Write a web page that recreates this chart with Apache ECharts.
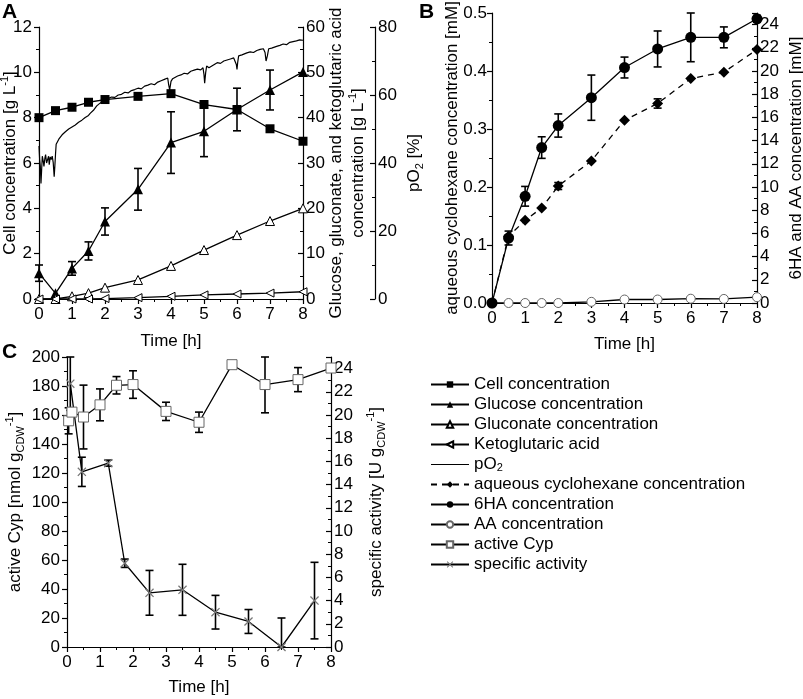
<!DOCTYPE html>
<html>
<head>
<meta charset="utf-8">
<script src="https://cdn.jsdelivr.net/npm/echarts/dist/echarts.min.js"></script>
<style>
    html, body { margin: 0; padding: 0; background: #fff; }
    #chart { width: 803px; height: 699px; }
</style>
</head>
<body>
<div id="chart"></div>
<script>
// ---- panel A: fermentation ----
var timeA = [0, 0.5, 1, 1.5, 2, 3, 4, 5, 6, 7, 8];
var cellConc = [8.0, 8.31, 8.46, 8.68, 8.8, 8.94, 9.06, 8.58, 8.36, 7.51, 6.96];
var glucoseConc = [5.7, 1.25, 6.75, 10.6, 17.1, 24.2, 34.5, 37.0, 41.8, 46.1, 50.1];
var glucoseErr = [1.8, 0, 1.5, 2.0, 3.0, 4.6, 6.8, 5.6, 4.7, 4.4, 0];
var gluconateConc = [0, 0, 0.6, 1.3, 2.5, 4.2, 7.3, 10.8, 14.1, 17.2, 20.0];
var ketoglutaricConc = [0, 0, 0, 0, 0.1, 0.3, 0.6, 0.9, 1.1, 1.3, 1.6];
// pO2 trace [h, %]
var pO2Trace = [
    [0, 45], [0.02, 41], [0.04, 39], [0.06, 34], [0.08, 38], [0.1, 42], [0.13, 40.5], [0.15, 39],
    [0.18, 41.5], [0.2, 42.5], [0.23, 40], [0.26, 41], [0.29, 42], [0.31, 39.5], [0.34, 41.8],
    [0.37, 41], [0.4, 42], [0.43, 40.2], [0.46, 36], [0.48, 39], [0.5, 42.5], [0.52, 45.5],
    [0.56, 46], [0.6, 47], [0.65, 47.5], [0.7, 48.3], [0.75, 48], [0.8, 49.2], [0.85, 49.5],
    [0.9, 50], [0.95, 50.3], [1.0, 50.6], [1.05, 50.4], [1.1, 51.2], [1.15, 51.5], [1.2, 52],
    [1.25, 51.8], [1.3, 52.6], [1.35, 53], [1.4, 53.4], [1.45, 53.2], [1.5, 54], [1.55, 54.6],
    [1.6, 54.9], [1.65, 55.5], [1.7, 56], [1.75, 56.8], [1.8, 57.2], [1.85, 57.6], [1.9, 58],
    [1.95, 58.2], [2.0, 58.8], [2.1, 59], [2.2, 59.4], [2.3, 59.3], [2.4, 60], [2.5, 60.2],
    [2.6, 60.8], [2.7, 60.6], [2.8, 61.3], [2.9, 61.6], [3.0, 62], [3.1, 61.8], [3.2, 62.6],
    [3.3, 62.9], [3.4, 63.3], [3.5, 63], [3.6, 63.8], [3.7, 64.2], [3.8, 64.6], [3.85, 64.2],
    [3.9, 65], [3.93, 63], [3.96, 61.5], [4.0, 64], [4.05, 64.8], [4.1, 65.2], [4.2, 65.6],
    [4.3, 65.9], [4.4, 66.4], [4.5, 66.2], [4.6, 67], [4.7, 67.3], [4.8, 67.6], [4.9, 67.4],
    [4.97, 68], [5.0, 66], [5.02, 63.5], [5.05, 66.5], [5.08, 68.5], [5.15, 68], [5.2, 68.3],
    [5.3, 68.9], [5.4, 69.5], [5.5, 69.3], [5.6, 70], [5.7, 70.3], [5.8, 70.6], [5.9, 70.9],
    [5.96, 71.3], [5.98, 69], [6.0, 67.5], [6.02, 69.5], [6.05, 71.5], [6.15, 71.8], [6.2, 72],
    [6.3, 72.4], [6.4, 72.7], [6.5, 72.5], [6.6, 73.1], [6.7, 73.4], [6.8, 73.6], [6.85, 72.5],
    [6.88, 70], [6.92, 71.5], [6.96, 73.6], [7.05, 73.8], [7.1, 74], [7.2, 74.3], [7.3, 74.6],
    [7.4, 75], [7.5, 74.8], [7.6, 75.5], [7.7, 75.7], [7.8, 75.9], [7.9, 76.2], [8.0, 76.1]
];

// ---- panel B: products ----
var timeB = [0, 0.5, 1, 1.5, 2, 3, 4, 5, 6, 7, 8];
var cyclohexaneConc = [0, 0.115, 0.1425, 0.164, 0.2017, 0.245, 0.315, 0.344, 0.387, 0.398, 0.437];
var cyclohexaneErr = [0, 0, 0, 0, 0.006, 0, 0, 0.008, 0, 0, 0];
var ha6Conc = [0, 5.6, 9.2, 13.4, 15.3, 17.7, 20.3, 21.9, 22.9, 22.9, 24.5];
var ha6Err = [0, 0.6, 0.85, 0.93, 1.0, 1.95, 0.9, 1.55, 2.1, 0.9, 0.3];
var aaConc = [0, 0, 0, 0, 0, 0.1, 0.3, 0.3, 0.37, 0.35, 0.5];

// ---- panel C: enzyme ----
var timeCyp = [0.05, 0.15, 0.5, 1, 1.5, 2, 3, 4, 5, 6, 7, 8];
var activeCyp = [156, 162, 158.6, 167, 180.5, 181, 162.5, 155, 194.7, 181, 184.4, 192.4];
var activeCypErr = [9, 0, 22, 11, 6, 9.5, 6.3, 7, 0, 19.5, 8.3, 0];
var timeAct = [0.1, 0.45, 1.25, 1.75, 2.5, 3.5, 4.5, 5.5, 6.5, 7.5];
var specActivity = [22.7, 15.1, 15.85, 7.22, 4.67, 4.93, 3.0, 2.2, 0, 4.0];
var specActivityErr = [2.3, 1.26, 0.26, 0.36, 1.93, 2.2, 1.45, 1.03, 2.5, 3.3];

var FONT = 'Liberation Sans, Arial, sans-serif';
var chart = echarts.init(document.getElementById('chart'));

function pairs(xs, ys) {
    var out = [];
    for (var i = 0; i < xs.length; i++) out.push([xs[i], ys[i]]);
    return out;
}
function errData(xs, ys, errs, top) {
    var out = [];
    for (var i = 0; i < xs.length; i++) {
        if (!errs[i]) continue;
        out.push([xs[i], Math.max(ys[i] - errs[i], 0), Math.min(ys[i] + errs[i], top)]);
    }
    return out;
}
function renderErr(params, api) {
    var hi = api.coord([api.value(0), api.value(2)]);
    var lo = api.coord([api.value(0), api.value(1)]);
    var st = { stroke: '#000', lineWidth: 1.6 };
    return {
        type: 'group',
        children: [
            { type: 'line', shape: { x1: hi[0], y1: hi[1], x2: lo[0], y2: lo[1] }, style: st },
            { type: 'line', shape: { x1: hi[0] - 4, y1: hi[1], x2: hi[0] + 4, y2: hi[1] }, style: st },
            { type: 'line', shape: { x1: lo[0] - 4, y1: lo[1], x2: lo[0] + 4, y2: lo[1] }, style: st }
        ]
    };
}
function errSeries(x, y, data) {
    return { type: 'custom', xAxisIndex: x, yAxisIndex: y, data: data, renderItem: renderErr, z: 1, silent: true };
}

var richStyle = {
    sup: { fontSize: 11, fontFamily: FONT, color: '#000', verticalAlign: 'top', lineHeight: 11 },
    sub: { fontSize: 11, fontFamily: FONT, color: '#000', verticalAlign: 'bottom', lineHeight: 11 }
};

function timeAxis(grid, gap) {
    return {
        type: 'value', gridIndex: grid, min: 0, max: 8, interval: 1,
        name: 'Time [h]', nameLocation: 'middle', nameGap: gap, nameMoveOverlap: false,
        nameTextStyle: { fontSize: 17, fontFamily: FONT, color: '#000' },
        axisLine: { show: true, onZero: false, lineStyle: { color: '#000', width: 1.2 } },
        axisTick: { show: true, length: 5, lineStyle: { color: '#000', width: 1.2 } },
        minorTick: { show: true, splitNumber: 2, length: 3, lineStyle: { color: '#000' } },
        axisLabel: { fontSize: 17, fontFamily: FONT, color: '#000', margin: 7 },
        splitLine: { show: false }
    };
}
function valAxis(grid, pos, min, max, interval, name, gap, inside, extra) {
    var ax = {
        type: 'value', gridIndex: grid, position: pos, min: min, max: max, interval: interval,
        name: name, nameLocation: 'middle', nameGap: gap, nameRotate: 90, nameMoveOverlap: false,
        nameTextStyle: { fontSize: 17, fontFamily: FONT, color: '#000', lineHeight: 22, rich: richStyle },
        axisLine: { show: true, onZero: false, lineStyle: { color: '#000', width: 1.2 } },
        axisTick: { show: true, inside: inside, length: 5, lineStyle: { color: '#000', width: 1.2 } },
        minorTick: { show: true, splitNumber: 2, length: 3, lineStyle: { color: '#000' } },
        axisLabel: { fontSize: 17, fontFamily: FONT, color: '#000', margin: inside ? 3 : 7, showMaxLabel: (max % interval === 0) },
        splitLine: { show: false }
    };
    if (extra) for (var k in extra) ax[k] = extra[k];
    return ax;
}

var crossPath = 'path://M0,1L1,0L5,4L9,0L10,1L6,5L10,9L9,10L5,6L1,10L0,9L4,5Z';
var lineW = { color: '#000', width: 1.3 };

var option = {
    animation: false,
    backgroundColor: '#fff',
    grid: [
        { left: 39, top: 27, width: 264, height: 272, outerBoundsMode: 'none' },
        { left: 492, top: 13, width: 265, height: 290, outerBoundsMode: 'none' },
        { left: 67, top: 357, width: 264, height: 290, outerBoundsMode: 'none' }
    ],
    graphic: [
        { type: 'text', left: 2, top: 2, style: { text: 'A', fontSize: 21, fontWeight: 'bold', fontFamily: FONT, fill: '#000' } },
        { type: 'text', left: 419, top: 2, style: { text: 'B', fontSize: 21, fontWeight: 'bold', fontFamily: FONT, fill: '#000' } },
        { type: 'text', left: 2, top: 342, style: { text: 'C', fontSize: 21, fontWeight: 'bold', fontFamily: FONT, fill: '#000' } }
    ],
    legend: {
        orient: 'vertical', left: 430, top: 376, padding: 0, itemWidth: 38, itemHeight: 8, itemGap: 3,
        selectedMode: false,
        data: ['Cell concentration', 'Glucose concentration', 'Gluconate concentration', 'Ketoglutaric acid',
            { name: 'pO2', icon: 'path://M0,0H40V1.3H0Z' },
            'aqueous cyclohexane concentration', '6HA concentration', 'AA concentration', 'active Cyp', 'specific activity'],
        formatter: function (name) {
            return name === 'pO2' ? 'pO{sub|2}' : name;
        },
        textStyle: { fontSize: 17, fontFamily: FONT, color: '#000', lineHeight: 17, rich: richStyle }
    },
    xAxis: [timeAxis(0, 34), timeAxis(1, 33), timeAxis(2, 32)],
    yAxis: [
        valAxis(0, 'left', 0, 12, 2, 'Cell concentration [g L{sup|-1}]', 18, false),
        valAxis(0, 'right', 0, 60, 10, 'Glucose, gluconate, and ketoglutaric acid\nconcentration [g L{sup|-1}]', 22, true),
        valAxis(0, 'right', 0, 80, 20, 'pO{sub|2} [%]', 28, true, { offset: 72 }),
        valAxis(1, 'left', 0, 0.5, 0.1, 'aqueous cyclohexane concentration [mM]', 29, false,
            { axisLabel: { fontSize: 17, fontFamily: FONT, color: '#000', margin: 5, formatter: function (v) { return v.toFixed(1); } } }),
        valAxis(1, 'right', 0, 25, 2, '6HA and AA concentration [mM]', 28, true),
        valAxis(2, 'left', 0, 200, 20, 'active Cyp [nmol g{sub|CDW}{sup|-1}]', 41, false),
        valAxis(2, 'right', 0, 25, 2, 'specific activity [U g{sub|CDW}{sup|-1}]', 34, true)
    ],
    series: [
        errSeries(0, 1, errData(timeA, glucoseConc, glucoseErr, 60)),
        errSeries(1, 4, errData(timeB, ha6Conc, ha6Err, 25)),
        errSeries(1, 3, errData(timeB, cyclohexaneConc, cyclohexaneErr, 0.5)),
        errSeries(2, 5, errData(timeCyp, activeCyp, activeCypErr, 200)),
        errSeries(2, 6, errData(timeAct, specActivity, specActivityErr, 25)),
        {
            name: 'pO2', type: 'line', xAxisIndex: 0, yAxisIndex: 2, symbol: 'none',
            data: pO2Trace, lineStyle: { color: '#000', width: 1.2 }, itemStyle: { color: '#000' }, z: 2
        },
        {
            name: 'Cell concentration', type: 'line', xAxisIndex: 0, yAxisIndex: 0, data: pairs(timeA, cellConc),
            symbol: 'rect', symbolSize: 9, lineStyle: lineW, itemStyle: { color: '#000' }, z: 3
        },
        {
            name: 'Glucose concentration', type: 'line', xAxisIndex: 0, yAxisIndex: 1, data: pairs(timeA, glucoseConc),
            symbol: 'triangle', symbolSize: 10, lineStyle: lineW, itemStyle: { color: '#000' }, z: 3
        },
        {
            name: 'Gluconate concentration', type: 'line', xAxisIndex: 0, yAxisIndex: 1, data: pairs(timeA, gluconateConc),
            symbol: 'triangle', symbolSize: 9, showAllSymbol: true, lineStyle: lineW,
            itemStyle: { color: '#fff', borderColor: '#000', borderWidth: 1 }, z: 3
        },
        {
            name: 'Ketoglutaric acid', type: 'line', xAxisIndex: 0, yAxisIndex: 1, data: pairs(timeA, ketoglutaricConc),
            symbol: 'triangle', symbolRotate: 90, symbolSize: 8, showAllSymbol: true, lineStyle: lineW,
            itemStyle: { color: '#fff', borderColor: '#000', borderWidth: 1 }, z: 3
        },
        {
            name: 'aqueous cyclohexane concentration', type: 'line', xAxisIndex: 1, yAxisIndex: 3,
            data: pairs(timeB, cyclohexaneConc), symbol: 'diamond', symbolSize: 11,
            lineStyle: { color: '#000', width: 1.3, type: [6, 5] }, itemStyle: { color: '#000' }, z: 3
        },
        {
            name: '6HA concentration', type: 'line', xAxisIndex: 1, yAxisIndex: 4, data: pairs(timeB, ha6Conc),
            symbol: 'circle', symbolSize: 11, lineStyle: lineW, itemStyle: { color: '#000' }, z: 4
        },
        {
            name: 'AA concentration', type: 'line', xAxisIndex: 1, yAxisIndex: 4, data: pairs(timeB, aaConc),
            symbol: 'circle', symbolSize: 9, showAllSymbol: true, lineStyle: lineW,
            itemStyle: { color: '#fff', borderColor: '#666', borderWidth: 1 }, z: 3
        },
        {
            name: 'active Cyp', type: 'line', xAxisIndex: 2, yAxisIndex: 5, data: pairs(timeCyp, activeCyp),
            symbol: 'rect', symbolSize: 10, showAllSymbol: true, lineStyle: lineW,
            itemStyle: { color: '#fff', borderColor: '#666', borderWidth: 1 }, z: 3
        },
        {
            name: 'specific activity', type: 'line', xAxisIndex: 2, yAxisIndex: 6, data: pairs(timeAct, specActivity),
            symbol: crossPath, symbolSize: 9, showAllSymbol: true, lineStyle: lineW,
            itemStyle: { color: '#777' }, z: 3
        }
    ]
};

chart.setOption(option);
window.onresize = function () {
    chart.resize();
};
</script>
</body>
</html>
